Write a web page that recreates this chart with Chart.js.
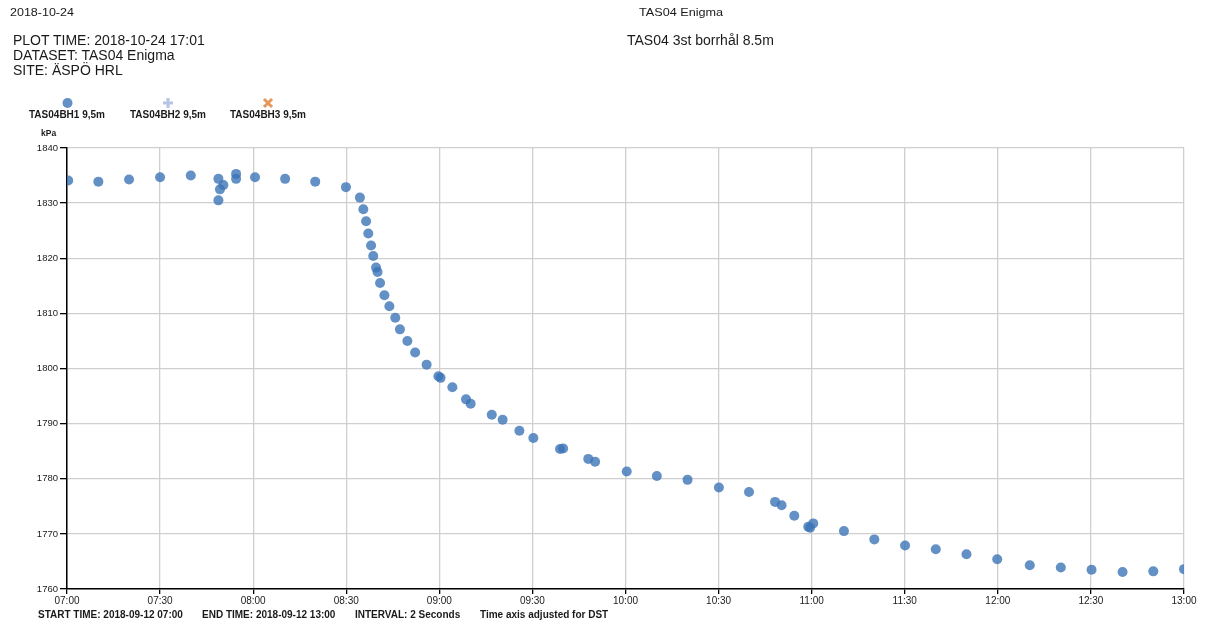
<!DOCTYPE html>
<html>
<head>
<meta charset="utf-8">
<script src="https://cdn.jsdelivr.net/npm/chart.js@4.4.1/dist/chart.umd.min.js"></script>
<style>
  html, body { margin: 0; padding: 0; background: #fff; }
  body { width: 1207px; height: 623px; position: relative; overflow: hidden; font-family: "Liberation Sans", Arial, sans-serif; color: #1a1a1a; }
  #wrap { position: absolute; left: 0; top: 0; width: 1207px; height: 623px; }
  .t { position: absolute; white-space: nowrap; line-height: 1; transform-origin: 0 0; }
  .b { font-weight: bold; }
</style>
</head>
<body>
<div id="wrap"><canvas id="c" width="1207" height="623"></canvas></div>

<div class="t" style="left:10px; top:8px; font-size:10px; transform:scaleX(1.25);">2018-10-24</div>
<div class="t" style="left:13px; top:33px; font-size:14px; line-height:15px;">PLOT TIME: 2018-10-24 17:01<br>DATASET: TAS04 Enigma<br>SITE: ÄSPÖ HRL</div>
<div class="t" style="left:639px; top:7px; font-size:11px; transform:scaleX(1.15);">TAS04 Enigma</div>
<div class="t" style="left:627px; top:33px; font-size:14px; line-height:15px;">TAS04 3st borrhål 8.5m</div>

<svg class="t" style="left:0; top:93px;" width="320" height="20">
  <circle cx="67.5" cy="10" r="5" fill="rgba(60,116,182,0.8)"/>
  <path d="M168 5 V15 M163 10 H173" stroke="#b9c5e6" stroke-width="3.2"/>
  <path d="M264 6 L272 14 M272 6 L264 14" stroke="#e8975a" stroke-width="3"/>
</svg>
<div class="t b" style="left:29px; top:110px; font-size:10px;">TAS04BH1 9,5m</div>
<div class="t b" style="left:130px; top:110px; font-size:10px;">TAS04BH2 9,5m</div>
<div class="t b" style="left:230px; top:110px; font-size:10px;">TAS04BH3 9,5m</div>
<div class="t b" style="left:41px; top:129px; font-size:8.5px;">kPa</div>

<div class="t b" style="left:38px; top:610px; font-size:10px;">START TIME: 2018-09-12 07:00</div>
<div class="t b" style="left:202px; top:610px; font-size:10px;">END TIME: 2018-09-12 13:00</div>
<div class="t b" style="left:355px; top:610px; font-size:10px;">INTERVAL: 2 Seconds</div>
<div class="t b" style="left:480px; top:610px; font-size:10px;">Time axis adjusted for DST</div>

<script>
// minutes after 07:00 (2018-09-12)
const bh1Minutes = [
  0.4, 10.1, 20.0, 30.0, 39.9, 48.8, 50.4, 49.3, 48.8, 54.5, 54.5, 60.6, 70.3, 80.0, 89.9,
  94.4, 95.5, 96.4, 97.1, 98.0, 98.7, 99.6, 100.1, 100.9, 102.3, 103.9, 105.8, 107.3, 109.7,
  112.2, 115.9, 119.7, 120.4, 124.2, 128.6, 130.1, 136.9, 140.4, 145.8, 150.3, 158.9, 159.9,
  168.0, 170.2, 180.4, 190.1, 200.0, 210.1, 219.8, 228.2, 230.3, 234.4, 238.9, 240.5, 239.5,
  250.4, 260.2, 270.1, 280.0, 289.9, 299.8, 310.3, 320.3, 330.2, 340.2, 350.1, 360.0
];
// pressure, kPa
const bh1Values = [
  1834.1, 1833.9, 1834.3, 1834.7, 1835.0, 1834.4, 1833.3, 1832.5, 1830.5, 1835.3, 1834.4, 1834.7, 1834.4, 1833.9, 1832.9,
  1831.0, 1828.9, 1826.7, 1824.5, 1822.3, 1820.4, 1818.3, 1817.5, 1815.5, 1813.3, 1811.3, 1809.2, 1807.1, 1805.0,
  1802.9, 1800.7, 1798.6, 1798.3, 1796.6, 1794.4, 1793.6, 1791.6, 1790.7, 1788.7, 1787.4, 1785.4, 1785.5,
  1783.6, 1783.1, 1781.3, 1780.5, 1779.8, 1778.4, 1777.6, 1775.8, 1775.2, 1773.3, 1771.3, 1771.9, 1771.1,
  1770.5, 1769.0, 1767.9, 1767.2, 1766.3, 1765.4, 1764.3, 1763.9, 1763.5, 1763.1, 1763.2, 1763.6
];
const bh2Values = [];
const bh3Values = [];
const xTickLabels = ["07:00","07:30","08:00","08:30","09:00","09:30","10:00","10:30","11:00","11:30","12:00","12:30","13:00"];
const yTickValues = [1760, 1770, 1780, 1790, 1800, 1810, 1820, 1830, 1840];

const pts = bh1Minutes.map((m, i) => ({ x: m, y: bh1Values[i] }));

new Chart(document.getElementById('c'), {
  type: 'scatter',
  data: {
    datasets: [
      { label: 'TAS04BH1 9,5m', data: pts, backgroundColor: 'rgba(60,116,182,0.8)', borderWidth: 0, pointRadius: 5, pointHoverRadius: 5 },
      { label: 'TAS04BH2 9,5m', data: bh2Values, backgroundColor: '#b9c5e6', pointStyle: 'cross', borderColor: '#b9c5e6', borderWidth: 3 },
      { label: 'TAS04BH3 9,5m', data: bh3Values, backgroundColor: '#e8975a', pointStyle: 'crossRot', borderColor: '#e8975a', borderWidth: 3 }
    ]
  },
  options: {
    responsive: false,
    animation: false,
    layout: { padding: { left: 0, right: 23, top: 148, bottom: 14 } },
    plugins: { legend: { display: false }, tooltip: { enabled: false } },
    scales: {
      x: {
        type: 'linear', min: 0, max: 360,
        afterBuildTicks: s => { s.ticks = xTickLabels.map((l, i) => ({ value: i * 30 })); },
        afterFit: s => { s.height = 20; },
        ticks: {
          callback: (v) => xTickLabels[Math.round(v / 30)],
          color: '#1a1a1a', font: { family: 'Liberation Sans', size: 10 }, padding: 1, maxRotation: 0, autoSkip: false
        },
        grid: { color: '#cfcfcf', lineWidth: 1.3, tickLength: 5, tickColor: '#000' },
        border: { color: '#000', width: 1.5 }
      },
      y: {
        min: 1760, max: 1840,
        afterBuildTicks: s => { s.ticks = yTickValues.map(v => ({ value: v })); },
        afterFit: s => { s.width = 67; },
        ticks: { callback: v => String(v), color: '#1a1a1a', font: { family: 'Liberation Sans', size: 9.5 }, padding: 2 },
        grid: { color: '#cfcfcf', lineWidth: 1.3, tickLength: 7, tickColor: '#000' },
        border: { color: '#000', width: 1.5 }
      }
    }
  }
});
</script>
</body>
</html>
